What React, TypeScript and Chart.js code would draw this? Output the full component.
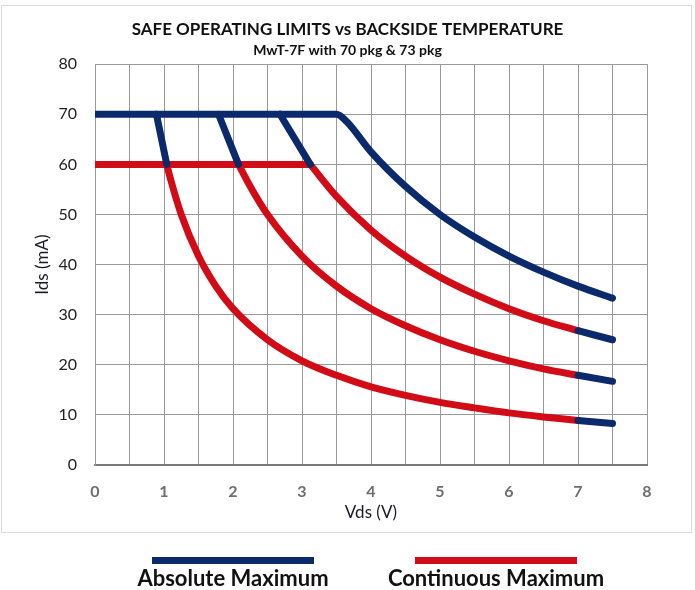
import React, { useEffect, useRef } from 'react';
import { Chart, registerables } from 'chart.js';

Chart.register(...registerables);

const FONT = 'Lato, "Open Sans", "DejaVu Sans", sans-serif';
const BLUE = '#0b2a6c';
const RED = '#d20c16';
const LINE_W = 7;

const titleText = 'SAFE OPERATING LIMITS vs BACKSIDE TEMPERATURE';
const subtitleText = 'MwT-7F with 70 pkg & 73 pkg';
const xTitle = 'Vds (V)';
const yTitle = 'Ids (mA)';
const legendAbs = 'Absolute Maximum';
const legendCont = 'Continuous Maximum';

const xMin = 0;
const xMax = 8;
const xGridStep = 0.5;
const yMin = 0;
const yMax = 80;
const yStep = 10;

// Continuous maximum: 60 mA current limit
const limitRedVds = [0, 3.12];
const limitRedIds = [60, 60];

// Lowest curve
const c1RedVds = [1.04, 1.1, 1.25, 1.5, 1.75, 2, 2.5, 3, 3.5, 4, 4.5, 5, 5.5, 6, 6.5, 7];
const c1RedIds = [60, 56.8, 50, 41.7, 35.7, 31.2, 25, 20.8, 17.9, 15.6, 13.9, 12.5, 11.4, 10.4, 9.6, 8.9];
const c1DiagVds = [0.89, 1.04];
const c1DiagIds = [70, 60];
const c1TailVds = [7, 7.5];
const c1TailIds = [8.9, 8.3];

// Second curve
const c2RedVds = [2.08, 2.25, 2.5, 3, 3.5, 4, 4.5, 5, 5.5, 6, 6.5, 7];
const c2RedIds = [60, 55.6, 50, 41.7, 35.7, 31.2, 27.8, 25, 22.7, 20.8, 19.2, 17.9];
const c2DiagVds = [1.79, 2.08];
const c2DiagIds = [70, 60];
const c2TailVds = [7, 7.5];
const c2TailIds = [17.9, 16.7];

// Third curve
const c3RedVds = [3.12, 3.5, 4, 4.5, 5, 5.5, 6, 6.5, 7];
const c3RedIds = [60, 53.6, 46.9, 41.7, 37.5, 34.1, 31.2, 28.8, 26.8];
const c3DiagVds = [2.68, 3.12];
const c3DiagIds = [70, 60];
const c3TailVds = [7, 7.5];
const c3TailIds = [26.8, 25];

// Top curve (absolute maximum, 70 mA limit)
const c4BlueVds = [0, 3.5, 3.65, 4, 4.5, 5, 5.5, 6, 6.5, 7, 7.5];
const c4BlueIds = [70, 70, 68.5, 62.5, 55.6, 50, 45.5, 41.7, 38.5, 35.7, 33.3];

const zip = (xs: number[], ys: number[]) => xs.map((x, i) => ({ x, y: ys[i] }));

const line = (label: string, color: string, xs: number[], ys: number[]) => ({
  label,
  data: zip(xs, ys),
  showLine: true,
  borderColor: color,
  backgroundColor: color,
  borderWidth: LINE_W,
  borderCapStyle: 'round' as const,
  borderJoinStyle: 'round' as const,
  pointRadius: 0,
  pointHoverRadius: 0,
  cubicInterpolationMode: 'monotone' as const,
  fill: false,
});

export default function App() {
  const ref = useRef<HTMLCanvasElement | null>(null);

  useEffect(() => {
    if (!ref.current) return;
    const chart = new Chart(ref.current, {
      type: 'scatter',
      data: {
        datasets: [
          line(legendAbs, BLUE, c4BlueVds, c4BlueIds),
          line(legendAbs, BLUE, c1DiagVds, c1DiagIds),
          line(legendAbs, BLUE, c2DiagVds, c2DiagIds),
          line(legendAbs, BLUE, c3DiagVds, c3DiagIds),
          line(legendAbs, BLUE, c1TailVds, c1TailIds),
          line(legendAbs, BLUE, c2TailVds, c2TailIds),
          line(legendAbs, BLUE, c3TailVds, c3TailIds),
          line(legendCont, RED, limitRedVds, limitRedIds),
          line(legendCont, RED, c1RedVds, c1RedIds),
          line(legendCont, RED, c2RedVds, c2RedIds),
          line(legendCont, RED, c3RedVds, c3RedIds),
        ],
      },
      options: {
        responsive: false,
        animation: false,
        layout: { padding: { left: 0, right: 0, top: 0, bottom: 65 } },
        plugins: {
          legend: { display: false },
          tooltip: { enabled: false },
          title: {
            display: true,
            text: titleText,
            color: '#111',
            font: { family: FONT, size: 17, weight: 'bold', lineHeight: 1.2 },
            padding: { top: 19, bottom: 1 },
          },
          subtitle: {
            display: true,
            text: subtitleText,
            color: '#111',
            font: { family: FONT, size: 14, weight: 'bold', lineHeight: 1.2 },
            padding: { top: 2, bottom: 5 },
          },
        },
        scales: {
          x: {
            type: 'linear',
            min: xMin,
            max: xMax,
            afterFit: (s: any) => {
              s.height = 60;
            },
            ticks: {
              stepSize: xGridStep,
              autoSkip: false,
              maxRotation: 0,
              padding: 17,
              color: '#6e6e6e',
              font: { family: FONT, size: 16, weight: 'bold' },
              callback: (v: any) => (Number.isInteger(v) ? String(v) : ''),
            },
            grid: { color: '#999', lineWidth: 1, drawTicks: false },
            border: { color: '#7a7a7a', width: 2 },
            title: {
              display: true,
              text: xTitle,
              color: '#1a1a2a',
              font: { family: FONT, size: 17, lineHeight: 1.2 },
              padding: { top: 0, bottom: 2 },
            },
          },
          y: {
            type: 'linear',
            position: 'left',
            min: yMin,
            max: yMax,
            afterFit: (s: any) => {
              s.width = 95;
            },
            ticks: {
              stepSize: yStep,
              padding: 18,
              color: '#222',
              font: { family: FONT, size: 16 },
            },
            grid: { color: '#999', lineWidth: 1, drawTicks: false },
            border: { color: '#999', width: 1 },
            title: {
              display: true,
              text: yTitle,
              color: '#1a1a2a',
              font: { family: FONT, size: 17, lineHeight: 1.2 },
              padding: { top: 32, bottom: 0 },
            },
          },
          yRight: {
            type: 'linear',
            position: 'right',
            min: yMin,
            max: yMax,
            afterFit: (s: any) => {
              s.width = 48;
            },
            ticks: { display: false },
            grid: { display: false, drawTicks: false },
            border: { display: false },
          },
        },
      },
    });
    return () => chart.destroy();
  }, []);

  const legendLabel: React.CSSProperties = {
    position: 'absolute',
    top: 565,
    width: 260,
    textAlign: 'center',
    fontFamily: FONT,
    fontWeight: 700,
    fontSize: 22,
    lineHeight: '26px',
    color: '#111',
    whiteSpace: 'nowrap',
  };

  return (
    <div style={{ position: 'absolute', left: 0, top: 0, width: 695, height: 590, background: '#fff', overflow: 'hidden' }}>
      <div
        style={{
          position: 'absolute',
          left: 1,
          top: 5,
          width: 691,
          height: 528,
          boxSizing: 'border-box',
          border: '1px solid #d9d9d9',
        }}
      />
      <canvas ref={ref} width={695} height={590} style={{ position: 'absolute', left: 0, top: 0 }} />
      <div style={{ position: 'absolute', left: 152, top: 557, width: 162, height: 7, background: BLUE }} />
      <div style={{ position: 'absolute', left: 415, top: 557, width: 162, height: 7, background: RED }} />
      <div style={{ ...legendLabel, left: 233 - 130 }}>{legendAbs}</div>
      <div style={{ ...legendLabel, left: 496 - 130 }}>{legendCont}</div>
    </div>
  );
}
